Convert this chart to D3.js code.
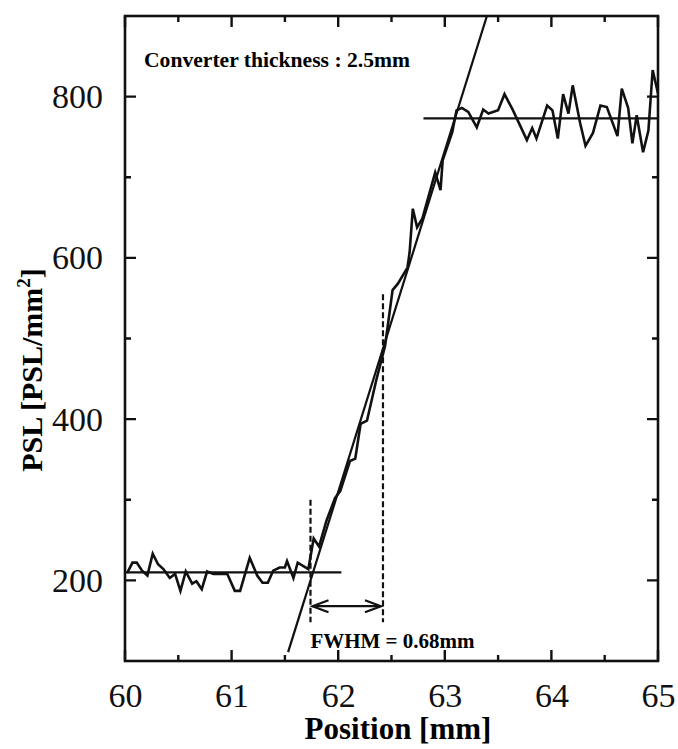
<!DOCTYPE html>
<meta charset="utf-8">
<style>
body { margin: 0; background: #fff; }
svg { display: block; font-family: "Liberation Serif", "Times New Roman", serif; }
.axis text { font-family: "Liberation Serif", "Times New Roman", serif; font-size: 34px; fill: #111; }
</style>
<body>
<svg width="678" height="749"></svg>
<script src="https://cdn.jsdelivr.net/npm/d3@7"></script>
<script>
// measured profile (position mm, PSL/mm2)
var posLeft = [60.02, 60.07, 60.11, 60.16, 60.21, 60.26, 60.31, 60.36, 60.42, 60.47, 60.52, 60.57, 60.63, 60.67, 60.72, 60.77, 60.83, 60.89, 60.96, 61.03, 61.08, 61.17, 61.24, 61.29, 61.34, 61.39, 61.45, 61.50, 61.52, 61.58, 61.62, 61.72];
var pslLeft = [209, 222, 222, 212, 206, 233, 220, 214, 203, 208, 187, 211, 196, 199, 189, 211, 208, 208, 208, 187, 187, 228, 206, 197, 197, 212, 216, 216, 224, 203, 222, 214];
var posRise = [61.77, 61.82, 61.89, 61.97, 62.02, 62.11, 62.16, 62.21, 62.27, 62.36, 62.44, 62.51, 62.56, 62.65, 62.67, 62.70, 62.74, 62.79, 62.91, 62.96, 62.98, 63.07];
var pslRise = [252, 242, 274, 302, 311, 348, 351, 394, 398, 450, 491, 560, 568, 588, 607, 661, 638, 649, 706, 684, 721, 756];
var posRight = [63.11, 63.16, 63.22, 63.30, 63.36, 63.41, 63.50, 63.56, 63.64, 63.77, 63.82, 63.86, 63.96, 64.01, 64.06, 64.11, 64.16, 64.20, 64.27, 64.32, 64.39, 64.46, 64.52, 64.62, 64.66, 64.72, 64.76, 64.80, 64.86, 64.91, 64.95, 65.00];
var pslRight = [783, 786, 781, 762, 784, 779, 783, 803, 783, 746, 761, 748, 789, 783, 748, 803, 779, 814, 767, 739, 755, 789, 787, 751, 810, 786, 742, 777, 731, 758, 833, 804];

// fitted lines
var lowFit = {x: [60, 62.03], y: [210, 210]};
var highFit = {x: [62.8, 65], y: [773, 773]};
var slopeFit = {x: [61.53, 63.395], y: [111, 900]};
var fwhmEdges = [61.74, 62.42];

var xMajor = [60, 61, 62, 63, 64, 65];
var xMinor = [60.5, 61.5, 62.5, 63.5, 64.5];
var yMajor = [200, 400, 600, 800];
var yMinor = [300, 500, 700];

var svg = d3.select("svg");
var x = d3.scaleLinear().domain([60, 65]).range([125, 658]);
var y = d3.scaleLinear().domain([100, 900]).range([661, 16]);

var pos = posLeft.concat(posRise, posRight);
var psl = pslLeft.concat(pslRise, pslRight);
var data = pos.map(function(p, i) { return [p, psl[i]]; });

var line = d3.line()
    .x(function(d) { return x(d[0]); })
    .y(function(d) { return y(d[1]); });

function pairs(o) { return o.x.map(function(v, i) { return [v, o.y[i]]; }); }

svg.append("defs").append("clipPath").attr("id", "clip")
  .append("rect")
    .attr("x", x(60)).attr("y", y(900))
    .attr("width", x(65) - x(60)).attr("height", y(100) - y(900));

var plot = svg.append("g").attr("clip-path", "url(#clip)");

// tick labels from d3 axes
function axisG(ax, tx, ty) {
  var g = svg.append("g")
      .attr("class", "axis")
      .attr("transform", "translate(" + tx + "," + ty + ")")
      .call(ax)
      .attr("font-family", null).attr("font-size", null);
  g.select(".domain").remove();
  g.selectAll(".tick line").remove();
  return g;
}
axisG(d3.axisBottom(x).tickValues(xMajor).tickSize(0).tickPadding(22).tickFormat(d3.format("d")), 0, y(100));
axisG(d3.axisLeft(y).tickValues(yMajor).tickSize(0).tickPadding(22).tickFormat(d3.format("d")), x(60), 0);

// inward tick marks on all four sides, drawn as one path
var tk = [];
function xTicks(vals, len) {
  vals.forEach(function(v) {
    tk.push("M" + x(v) + "," + y(100) + "V" + (y(100) - len));
    tk.push("M" + x(v) + "," + y(900) + "V" + (y(900) + len));
  });
}
function yTicks(vals, len) {
  vals.forEach(function(v) {
    tk.push("M" + x(60) + "," + y(v) + "H" + (x(60) + len));
    tk.push("M" + x(65) + "," + y(v) + "H" + (x(65) - len));
  });
}
xTicks(xMajor, 11); xTicks(xMinor, 6);
yTicks(yMajor, 11); yTicks(yMinor, 6);
svg.append("path")
    .attr("d", tk.join(""))
    .attr("fill", "none").attr("stroke", "#111").attr("stroke-width", 2.4);

// fits
[lowFit, highFit, slopeFit].forEach(function(f) {
  plot.append("path")
    .attr("d", line(pairs(f)))
    .attr("fill", "none").attr("stroke", "#111").attr("stroke-width", 2.2);
});

// data
plot.append("path")
    .attr("d", line(data))
    .attr("fill", "none").attr("stroke", "#111")
    .attr("stroke-width", 2.6).attr("stroke-linejoin", "miter");

// FWHM markers
var dashTop = [300, 555];
fwhmEdges.forEach(function(e, i) {
  svg.append("line")
    .attr("x1", x(e)).attr("x2", x(e))
    .attr("y1", y(dashTop[i])).attr("y2", y(148))
    .attr("stroke", "#111").attr("stroke-width", 2.2)
    .attr("stroke-dasharray", "6,3");
});
var ay = y(168);
svg.append("line")
    .attr("x1", x(fwhmEdges[0]) + 2).attr("x2", x(fwhmEdges[1]) - 2)
    .attr("y1", ay).attr("y2", ay)
    .attr("stroke", "#111").attr("stroke-width", 2.2);
[[x(fwhmEdges[0]) + 2, 1], [x(fwhmEdges[1]) - 2, -1]].forEach(function(h) {
  svg.append("path")
    .attr("d", "M" + (h[0] + h[1] * 16) + "," + (ay - 6) + "L" + h[0] + "," + ay + "L" + (h[0] + h[1] * 16) + "," + (ay + 6))
    .attr("fill", "none").attr("stroke", "#111").attr("stroke-width", 2.2);
});

// frame
svg.append("rect")
    .attr("x", x(60)).attr("y", y(900))
    .attr("width", x(65) - x(60)).attr("height", y(100) - y(900))
    .attr("fill", "none").attr("stroke", "#111").attr("stroke-width", 2.6);

// texts
svg.append("text")
    .attr("x", 144).attr("y", 67)
    .attr("font-size", 20).attr("font-weight", "bold")
    .attr("textLength", 266).attr("lengthAdjust", "spacingAndGlyphs")
    .text("Converter thickness  : 2.5mm");

svg.append("text")
    .attr("x", x(fwhmEdges[0])).attr("y", 648)
    .attr("font-size", 20).attr("font-weight", "bold")
    .attr("textLength", 164).attr("lengthAdjust", "spacingAndGlyphs")
    .text("FWHM = 0.68mm");

svg.append("text")
    .attr("x", 398).attr("y", 739)
    .attr("text-anchor", "middle")
    .attr("font-size", 31).attr("font-weight", "bold")
    .text("Position [mm]");

var yl = svg.append("text")
    .attr("transform", "translate(42,370) rotate(-90)")
    .attr("text-anchor", "middle")
    .attr("font-size", 30).attr("font-weight", "bold");
yl.append("tspan").text("PSL [PSL/mm");
yl.append("tspan").attr("font-size", 19).attr("dy", -12).text("2");
yl.append("tspan").attr("dy", 12).text("]");
</script>
</body>
